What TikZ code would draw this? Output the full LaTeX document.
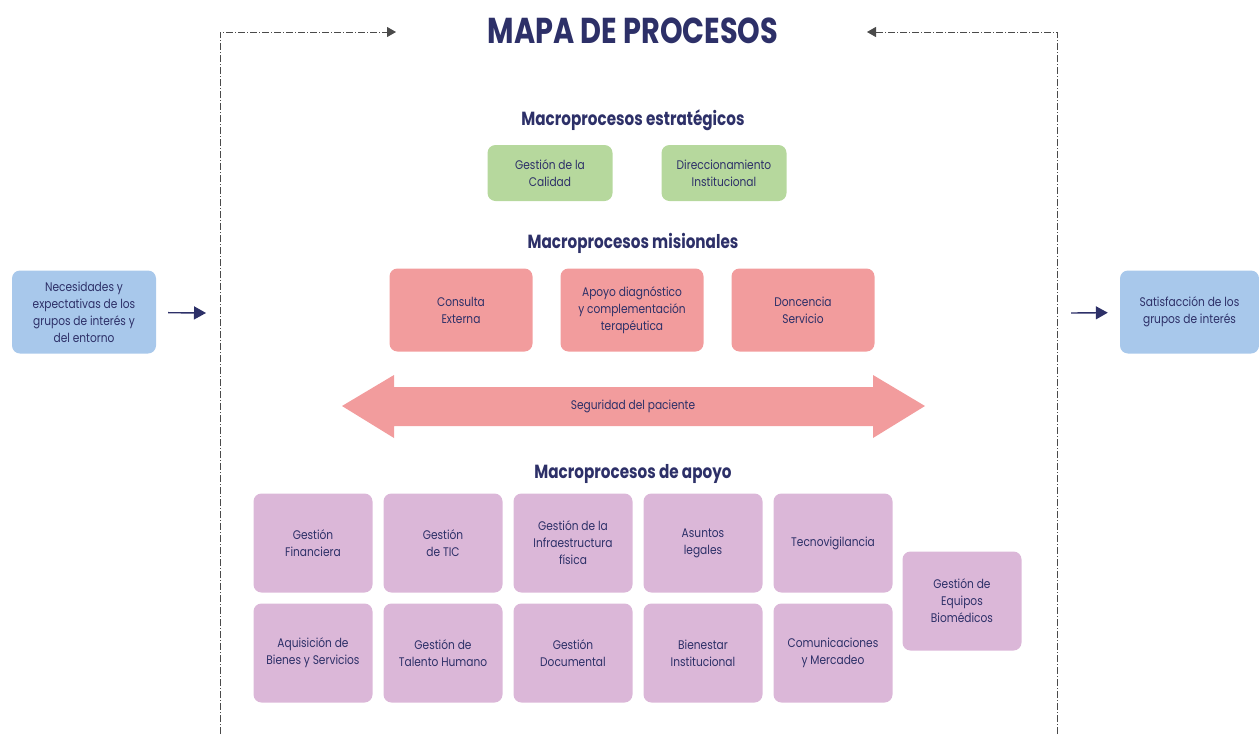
\documentclass[tikz,border=0pt]{standalone}
\usepackage{fontspec}
\setmainfont{Poppins}
\newfontfamily\cajafont[FakeStretch=0.85]{Poppins}
\newfontfamily\titfont[FakeStretch=0.8]{Poppins}
\usetikzlibrary{arrows.meta,positioning,shapes}
\definecolor{azulosc}{HTML}{2D3068}
\definecolor{verde}{HTML}{B6D89D}
\definecolor{rosa}{HTML}{F29C9D}
\definecolor{lila}{HTML}{DBB7D8}
\definecolor{celeste}{HTML}{A8C8EB}
\definecolor{gris}{HTML}{4A4A4A}

\begin{document}
\begin{tikzpicture}[x=1pt,y=-1pt,node distance=130pt,on grid,
   caja/.style={rectangle,rounded corners=8pt,align=center,text=azulosc,inner sep=2pt,
      font=\cajafont\fontsize{12.5}{17}\selectfont},
   estrat/.style={caja,fill=verde,minimum width=125pt,minimum height=56pt},
   mision/.style={caja,fill=rosa,minimum width=143pt,minimum height=83pt},
   apoyo/.style={caja,fill=lila,minimum width=119pt,minimum height=99pt},
   entorno/.style={caja,fill=celeste,minimum height=83pt},
   grupo/.style={text=azulosc,font=\titfont\bfseries\fontsize{19}{22}\selectfont},
   marco/.style={gris,dash pattern=on 7pt off 2pt on 1pt off 2pt,line width=0.9pt,
      -{Triangle[length=9pt,width=10pt]}},
   flecha/.style={azulosc,line width=1.4pt,-{Triangle[length=12pt,width=13pt]}}]
   \useasboundingbox (0,0) rectangle (1259,734);

   \node[text=azulosc,font=\titfont\bfseries\fontsize{36}{42}\selectfont] (mapa) at (633,31) {MAPA DE PROCESOS};

   \coordinate (marcoIzq) at (220,734);
   \coordinate (puntaIzq) at (396,32);
   \coordinate (marcoDer) at (1057,734);
   \coordinate (puntaDer) at (867,32);
   \draw[marco] (marcoIzq) |- (puntaIzq);
   \draw[marco] (marcoDer) |- (puntaDer);

   \node[grupo] (tEstrat) at (633,120) {Macroprocesos estratégicos};
   \node[estrat] (calidad) at (550,173) {Gestión de la\\Calidad};
   \node[estrat,right=174pt of calidad] (direccion) {Direccionamiento\\Institucional};

   \node[grupo] (tMision) at (633,243) {Macroprocesos misionales};
   \node[mision] (consulta) at (461,310) {Consulta\\Externa};
   \node[mision,right=171pt of consulta] (diagnostico) {Apoyo diagnóstico\\y complementación\\terapéutica};
   \node[mision,right=171pt of diagnostico] (docencia) {Doncencia\\Servicio};

   \fill[rosa] (342,406) -- (394,375) -- (394,387) -- (873,387) -- (873,375) -- (925,406)
      -- (873,438) -- (873,426) -- (394,426) -- (394,438) -- cycle;
   \node[caja] (seguridad) at (633,406) {Seguridad del paciente};

   \node[grupo] (tApoyo) at (633,474) {Macroprocesos de apoyo};
   \node[apoyo] (financiera) at (313,543) {Gestión\\Financiera};
   \node[apoyo,right=of financiera] (tic) {Gestión\\de TIC};
   \node[apoyo,right=of tic] (infra) {Gestión de la\\Infraestructura\\física};
   \node[apoyo,right=of infra] (legales) {Asuntos\\legales};
   \node[apoyo,right=of legales] (tecno) {Tecnovigilancia};
   \node[apoyo,below=110pt of financiera] (bienes) {Aquisición de\\Bienes y Servicios};
   \node[apoyo,right=of bienes] (talento) {Gestión de\\Talento Humano};
   \node[apoyo,right=of talento] (documental) {Gestión\\Documental};
   \node[apoyo,right=of documental] (bienestar) {Bienestar\\Institucional};
   \node[apoyo,right=of bienestar] (comunicacion) {Comunicaciones\\y Mercadeo};
   \node[apoyo] (biomedicos) at (962,601) {Gestión de\\Equipos\\Biomédicos};

   \node[entorno,minimum width=144pt] (necesidades) at (84,312)
      {Necesidades y\\expectativas de los\\grupos de interés y\\del entorno};
   \node[entorno,minimum width=139pt] (satisfaccion) at (1189.5,312)
      {Satisfacción de los\\grupos de interés};
   \coordinate (entrada) at (206,313);
   \coordinate (salida) at (1071,313);
   \draw[flecha,shorten <=12pt] (necesidades) -- (entrada);
   \draw[flecha,shorten >=12pt] (salida) -- (satisfaccion);
\end{tikzpicture}
\end{document}
